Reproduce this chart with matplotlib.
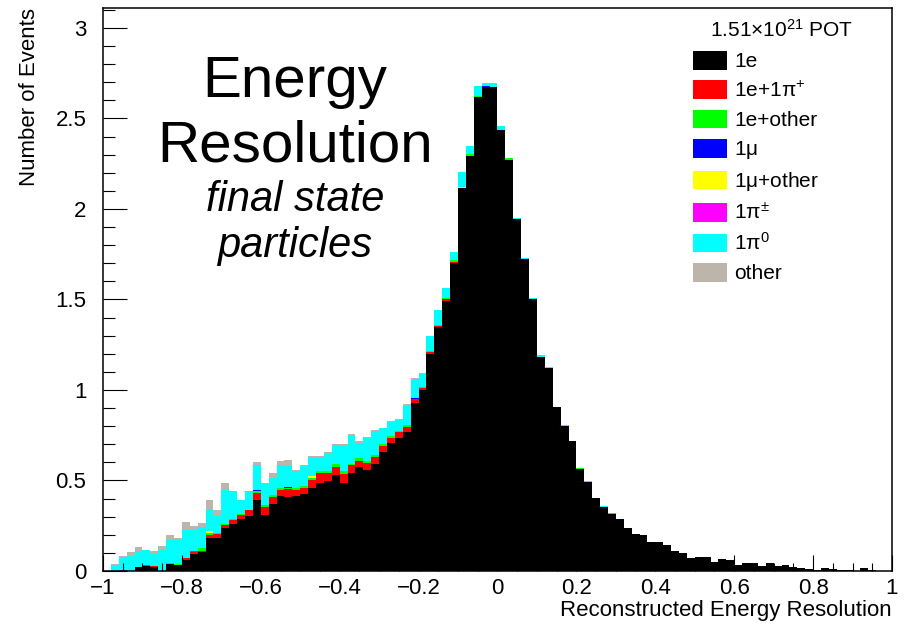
import numpy as np
import matplotlib
matplotlib.use("Agg")
from matplotlib import pyplot as plt
from matplotlib.patches import Patch
from matplotlib.ticker import MultipleLocator, FixedLocator

plt.rcParams['font.family'] = ['Liberation Sans', 'DejaVu Sans']
plt.rcParams['mathtext.fontset'] = 'custom'
plt.rcParams['mathtext.rm'] = 'Liberation Sans'
plt.rcParams['mathtext.it'] = 'Liberation Sans:italic'

# histogram binning: 100 bins from -1 to 1
x_lo, x_hi, n_bins = -1.0, 1.0, 100

# per-category bin contents, bottom of stack first
one_e = [
    0, 0, 0, 0, .022, .026, .022, 0, .039, .031,
    .061, .096, .105, .182, .184, .236, .258, .285, .302, .390,
    .311, .370, .414, .411, .416, .425, .460, .488, .497, .529,
    .486, .541, .575, .556, .593, .657, .705, .735, .768, .928,
    .998, 1.199, 1.346, 1.494, 1.703, 2.114, 2.293, 2.620, 2.672, 2.672,
    2.436, 2.271, 1.945, 1.722, 1.503, 1.184, 1.120, .908, .800, .718,
    .563, .490, .401, .352, .316, .285, .239, .204, .200, .158,
    .162, .144, .110, .101, .074, .079, .077, .052, .068, .061,
    .033, .044, .042, .028, .046, .028, .035, .024, .017, .011,
    .007, .017, .009, .007, .005, 0, .015, .004, 0, 0,
]
one_e_one_pip = [
    0, 0, 0, 0, 0, 0, .006, 0, 0, 0,
    .010, .009, .004, .018, .020, .016, .024, .024, .033, .043,
    .041, .039, .035, .040, .033, .035, .045, .053, .044, .044,
    .052, .043, .035, .039, .039, .035, .032, .033, .028, .024,
    .015, .013, .009, .008, .005, 0, 0, 0, 0, 0,
] + [0] * 50
one_e_other = [
    0, 0, 0, 0, 0, 0, 0, 0, .004, .007,
    0, 0, .016, .008, .005, .006, .006, .006, .004, .008,
    .011, .009, .007, .008, .007, .009, .010, .014, .011, .020,
    .014, .009, .015, .011, .011, .011, .007, .007, .009, 0,
    .005, .005, .005, .006, .010, 0, .010, .005, 0, .004,
    0, .009, 0, .003, 0, 0, 0, 0, 0, 0,
    .004, 0, 0, 0, .003, 0, 0, 0, 0, 0,
] + [0] * 30
one_mu = [0] * 19 + [.007, 0, 0, 0, .006] + [0] * 15 + [.004] + [0] * 8 + [.005] + [0] * 51
one_mu_other = [0] * 13 + [.012] + [0] * 12 + [.010] + [0] * 18 + [.005] + [0] * 54
one_pipm = [0, 0, .008, 0, 0, .006, 0, 0, 0, 0, 0, .005] + [0] * 88
one_pi0 = [
    0, .031, .069, .081, .087, .084, .064, .114, .128, .133,
    .154, .115, .118, .115, .093, .189, .154, .077, .103, .137,
    .117, .096, .128, .119, .096, .109, .103, .073, .094, .105,
    .138, .153, .084, .127, .129, .085, .079, .057, .108, .107,
    .072, .083, .082, .057, .046, .087, .045, .055, .021, .014,
    .024, 0, .005, .006, .007, .009, .008, 0, .007, 0,
    0, .007, 0, .007, 0, 0, 0, 0, 0, 0,
] + [0] * 30
other = [
    0, .006, .006, .026, .025, 0, .018, .026, .026, .011,
    .044, .022, .022, .055, .033, .041, 0, 0, 0, .015,
    .005, .027, .024, .027, .004, .006, .006, .006, .011, .006,
    .010, .009, .011, .009, .007, .004, .004, .010, .008, .003,
    .004, 0, 0, 0, 0, 0, 0, 0, 0, .004,
] + [0] * 50

categories = ['1e', r'1e+1$\mathrm{\pi}^{+}$', '1e+other', r'1$\mathrm{\mu}$',
              r'1$\mathrm{\mu}$+other', r'1$\mathrm{\pi}^{\pm}$', r'1$\mathrm{\pi}^{0}$', 'other']
colors = ['#000000', '#ff0000', '#00ff00', '#0000ff', '#ffff00', '#ff00ff', '#00ffff', '#bdb5ac']
series = [one_e, one_e_one_pip, one_e_other, one_mu, one_mu_other, one_pipm, one_pi0, other]

x_ticks = [-1, -0.8, -0.6, -0.4, -0.2, 0, 0.2, 0.4, 0.6, 0.8, 1]
x_tick_labels = ['\u22121', '\u22120.8', '\u22120.6', '\u22120.4', '\u22120.2', '0',
                 '0.2', '0.4', '0.6', '0.8', '1']
y_ticks = [0, 0.5, 1, 1.5, 2, 2.5, 3]
y_tick_labels = ['0', '0.5', '1', '1.5', '2', '2.5', '3']

W, H = 914, 624
fig = plt.figure(figsize=(W / 100, H / 100), dpi=100)
ax = fig.add_axes([103 / W, 1 - 571 / H, (892 - 103) / W, (571 - 8) / H])

edges = np.linspace(x_lo, x_hi, n_bins + 1)
bottom = np.zeros(n_bins)
for vals, c in zip(series, colors):
    vals = np.asarray(vals, dtype=float)
    ax.stairs(bottom + vals, edges, baseline=bottom.copy(), fill=True,
              color=c, linewidth=0)
    bottom = bottom + vals

ax.set_xlim(x_lo, x_hi)
ax.set_ylim(0, 3.11)

ax.xaxis.set_major_locator(FixedLocator(x_ticks))
ax.set_xticklabels(x_tick_labels)
ax.xaxis.set_minor_locator(MultipleLocator(0.05))
ax.yaxis.set_major_locator(FixedLocator(y_ticks))
ax.set_yticklabels(y_tick_labels)
ax.yaxis.set_minor_locator(MultipleLocator(0.1))

ax.tick_params(axis='both', which='both', direction='in', top=False, right=False,
               labelsize=16, width=0.8, color='black')
ax.tick_params(axis='x', which='major', length=11.8, pad=5)
ax.tick_params(axis='x', which='minor', length=5.9)
ax.tick_params(axis='y', which='major', length=17, pad=12)
ax.tick_params(axis='y', which='minor', length=8.5)
for s in ax.spines.values():
    s.set_linewidth(1.1)

ax.set_xlabel('Reconstructed Energy Resolution', fontsize=16, loc='right', labelpad=0.5)
ax.set_ylabel('Number of Events', fontsize=16, loc='top', labelpad=11)

# big annotation
fig.text(295 / W, 1 - 97 / H, 'Energy', fontsize=42, ha='center', va='baseline')
fig.text(295 / W, 1 - 162 / H, 'Resolution', fontsize=42, ha='center', va='baseline')
fig.text(295 / W, 1 - 211 / H, 'final state', fontsize=30, style='italic',
         ha='center', va='baseline')
fig.text(295 / W, 1 - 257 / H, 'particles', fontsize=30, style='italic',
         ha='center', va='baseline')

# legend
fig.text(782 / W, 1 - 30 / H, r'1.51$\times$10$^{21}$ POT', fontsize=15,
         ha='center', va='center')
handles = [Patch(facecolor=c, edgecolor='none') for c in colors]
ax.legend(handles, categories, loc='upper left', bbox_to_anchor=(693 / W, 1 - 51 / H),
          bbox_transform=fig.transFigure, frameon=False, fontsize=15,
          handlelength=1.63, handleheight=1.0, handletextpad=0.34,
          labelspacing=0.425, borderpad=0, borderaxespad=0)

fig.savefig('out.png', dpi=100)
